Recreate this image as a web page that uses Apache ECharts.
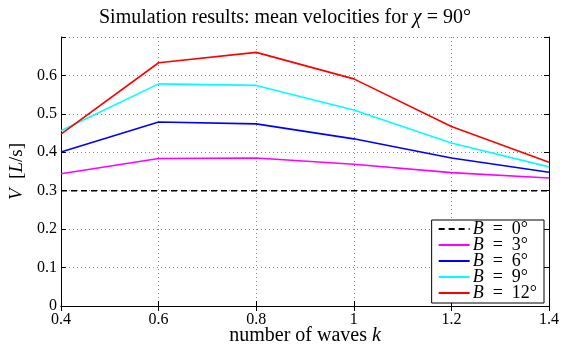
<!DOCTYPE html>
<html>
<head>
<meta charset="utf-8">
<script src="https://cdn.jsdelivr.net/npm/echarts@6/dist/echarts.min.js"></script>
<style>
  html, body { margin: 0; padding: 0; background: #fff; }
  #chart { width: 571px; height: 347px; }
</style>
</head>
<body>
<div id="chart"></div>
<script>
// number of waves k
const kValues = [0.4, 0.6, 0.8, 1.0, 1.2, 1.4];
const xTicks = ["0.4", "0.6", "0.8", "1", "1.2", "1.4"];
const yTicks = ["0", "0.1", "0.2", "0.3", "0.4", "0.5", "0.6"];

// mean velocities V [L/s] for each B
const vB0 = [0.3, 0.3, 0.3, 0.3, 0.3, 0.3];
const vB3 = [0.344, 0.384, 0.385, 0.369, 0.347, 0.333];
const vB6 = [0.401, 0.479, 0.474, 0.435, 0.385, 0.348];
const vB9 = [0.456, 0.578, 0.574, 0.510, 0.424, 0.362];
const vB12 = [0.447, 0.633, 0.660, 0.591, 0.467, 0.374];

const seriesNames = ["0", "3", "6", "9", "12"];
const seriesColors = ["#000000", "#ff00ff", "#0000ff", "#00ffff", "#ff0000"];
const seriesData = [vB0, vB3, vB6, vB9, vB12];

const FONT = "Liberation Serif";

const chart = echarts.init(document.getElementById("chart"));

const pairs = arr => kValues.map((k, i) => [k, arr[i]]);

const gridLine = {
  show: true,
  lineStyle: { color: "#888", type: [1, 3], width: 1 }
};

const option = {
  animation: false,
  backgroundColor: "#fff",
  title: {
    text: "Simulation results: mean velocities for {i|χ} = 90°",
    left: 94,
    top: 3,
    textStyle: {
      fontFamily: FONT,
      fontWeight: "normal",
      fontSize: 20,
      color: "#000",
      rich: {
        i: { fontFamily: FONT, fontStyle: "italic", fontSize: 20, color: "#000" }
      }
    }
  },
  grid: { left: 61, right: 22, top: 37, bottom: 41, outerBoundsMode: "none" },
  legend: {
    orient: "vertical",
    right: 27,
    top: 220,
    backgroundColor: "#fff",
    borderColor: "#000",
    borderWidth: 1,
    borderRadius: 0,
    padding: [0, 7, 1, 6],
    itemGap: -2,
    itemWidth: 31,
    itemHeight: 15,
    itemStyle: { opacity: 0 },
    data: seriesNames.map(n => "B" + n),
    formatter: name => "{i|B}  =  " + name.slice(1) + "°",
    textStyle: {
      fontFamily: FONT,
      fontSize: 18,
      color: "#000",
      padding: [0, 0, 0, -2],
      rich: {
        i: { fontFamily: FONT, fontStyle: "italic", fontSize: 18, color: "#000" }
      }
    }
  },
  xAxis: [
    {
      type: "value",
      min: 0.4,
      max: 1.4,
      interval: 0.2,
      name: "number of waves {i|k}",
      nameLocation: "middle",
      nameGap: 20,
      nameMoveOverlap: false,
      nameTextStyle: {
        fontFamily: FONT,
        fontSize: 20,
        color: "#000",
        rich: { i: { fontFamily: FONT, fontStyle: "italic", fontSize: 20, color: "#000" } }
      },
      axisLine: { show: true, lineStyle: { color: "#000", width: 1 } },
      axisTick: { show: true, inside: true, length: 5, lineStyle: { color: "#000" } },
      axisLabel: {
        fontFamily: FONT,
        fontSize: 16,
        color: "#000",
        margin: 6,
        formatter: (v) => xTicks[Math.round((v - 0.4) / 0.2)]
      },
      splitLine: gridLine
    },
    {
      type: "value",
      position: "top",
      min: 0.4,
      max: 1.4,
      interval: 0.2,
      axisLine: { show: true, lineStyle: { color: "#000", width: 1 } },
      axisTick: { show: true, inside: true, length: 5, lineStyle: { color: "#000" } },
      axisLabel: { show: false },
      splitLine: { show: false }
    }
  ],
  yAxis: [
    {
      type: "value",
      min: 0,
      max: 0.7,
      interval: 0.1,
      name: "{i|V}  [{i|L}/s]",
      nameLocation: "middle",
      nameGap: 33,
      nameRotate: 90,
      nameTextStyle: {
        fontFamily: FONT,
        fontSize: 19,
        color: "#000",
        rich: { i: { fontFamily: FONT, fontStyle: "italic", fontSize: 19, color: "#000" } }
      },
      axisLine: { show: true, lineStyle: { color: "#000", width: 1 } },
      axisTick: { show: true, inside: true, length: 5, lineStyle: { color: "#000" } },
      axisLabel: {
        fontFamily: FONT,
        fontSize: 16,
        color: "#000",
        margin: 4,
        formatter: (v) => {
          const i = Math.round(v * 10);
          return i < yTicks.length ? yTicks[i] : "";
        }
      },
      splitLine: gridLine
    },
    {
      type: "value",
      position: "right",
      min: 0,
      max: 0.7,
      interval: 0.1,
      axisLine: { show: true, lineStyle: { color: "#000", width: 1 } },
      axisTick: { show: true, inside: true, length: 5, lineStyle: { color: "#000" } },
      axisLabel: { show: false },
      splitLine: { show: false }
    }
  ],
  series: seriesNames.map((n, i) => ({
    name: "B" + n,
    type: "line",
    xAxisIndex: 0,
    yAxisIndex: 0,
    data: pairs(seriesData[i]),
    showSymbol: false,
    symbol: "none",
    color: seriesColors[i],
    lineStyle: {
      color: seriesColors[i],
      width: 1.6,
      type: i === 0 ? [6, 4] : "solid"
    },
    z: 2 + i
  }))
};

chart.setOption(option);
</script>
</body>
</html>
